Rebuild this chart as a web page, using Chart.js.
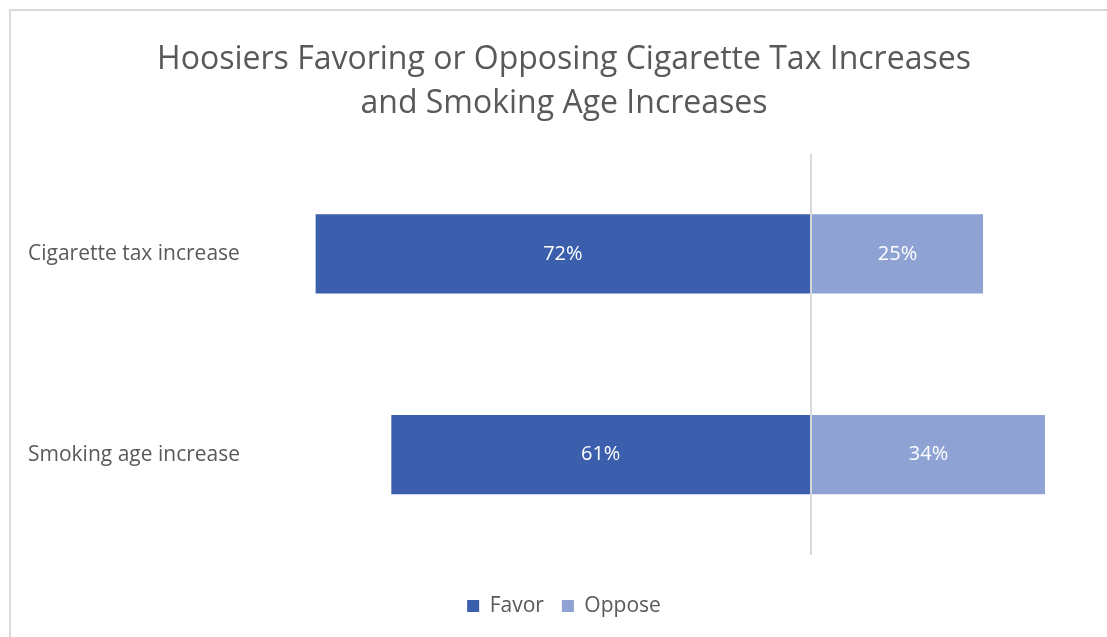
<!DOCTYPE html>
<html lang="en">
<head>
    <meta charset="UTF-8">
    <script src="https://cdn.jsdelivr.net/npm/chart.js@4.4.0/dist/chart.umd.min.js"></script>
    <title>Hoosiers Favoring or Opposing Cigarette Tax Increases and Smoking Age Increases</title>
    <style>
        body { margin: 0; background: #fff; }
        #wrap { position: relative; width: 1107px; height: 637px; }
        #frame { position: absolute; left: 9px; top: 9px; right: 0; bottom: 0;
                 border-left: 2px solid #d9d9d9; border-top: 2px solid #d9d9d9; pointer-events: none; }
    </style>
</head>
<body>
<div id="wrap">
    <canvas id="chart" width="1107" height="637"></canvas>
    <div id="frame"></div>
</div>

<script>
const questions = ['Cigarette tax increase', 'Smoking age increase'];
const favor = [72, 61];
const oppose = [25, 34];
const titleLines = ['Hoosiers Favoring or Opposing Cigarette Tax Increases', 'and Smoking Age Increases'];

const FONT = '"Open Sans", sans-serif';
const GREY = '#595959';

// white percentage text in the middle of each bar
const barLabels = {
    id: 'barLabels',
    afterDatasetsDraw(chart) {
        const ctx = chart.ctx;
        ctx.save();
        ctx.fillStyle = '#ffffff';
        ctx.font = '20px ' + FONT;
        ctx.textAlign = 'center';
        ctx.textBaseline = 'middle';
        chart.data.datasets.forEach((ds, i) => {
            chart.getDatasetMeta(i).data.forEach((bar, j) => {
                const p = bar.getCenterPoint();
                ctx.fillText(Math.abs(ds.data[j]) + '%', p.x, p.y);
            });
        });
        ctx.restore();
    }
};

var ctx = document.getElementById('chart').getContext('2d');
var myChart = new Chart(ctx, {
    type: 'bar',
    data: {
        labels: questions,
        datasets: [{
            label: 'Favor',
            data: favor.map(v => -v),
            backgroundColor: '#3b5fac',
            categoryPercentage: 1,
            barPercentage: 0.395
        }, {
            label: 'Oppose',
            data: oppose,
            backgroundColor: '#8ea2d3',
            categoryPercentage: 1,
            barPercentage: 0.395
        }]
    },
    options: {
        indexAxis: 'y',
        responsive: false,
        animation: false,
        layout: { padding: { left: 28, right: 7, top: 10, bottom: 10.5 } },
        scales: {
            x: {
                stacked: true,
                min: -80,
                max: 42,
                z: 1,
                ticks: { display: false, stepSize: 10 },
                border: { display: false },
                grid: {
                    lineWidth: 2,
                    drawTicks: false,
                    color: c => c.tick && c.tick.value === 0 ? '#d9d9d9' : 'rgba(0,0,0,0)'
                }
            },
            y: {
                stacked: true,
                border: { display: false },
                grid: { display: false },
                ticks: {
                    crossAlign: 'far',
                    color: GREY,
                    font: { family: FONT, size: 21 }
                },
                afterFit(scale) { scale.width = 232.6; }
            }
        },
        plugins: {
            title: {
                display: true,
                text: titleLines,
                color: GREY,
                font: { family: FONT, size: 32, weight: 'normal', lineHeight: 1.4 },
                padding: { top: 27, bottom: 27 }
            },
            legend: {
                position: 'bottom',
                title: { display: true, text: '', font: { size: 1, lineHeight: 1 }, padding: { top: 0, bottom: 21.5 } },
                labels: {
                    color: GREY,
                    boxWidth: 12,
                    boxHeight: 12,
                    padding: 18,
                    font: { family: FONT, size: 21 }
                }
            },
            tooltip: { enabled: false }
        }
    },
    plugins: [barLabels]
});
</script>
</body>
</html>
